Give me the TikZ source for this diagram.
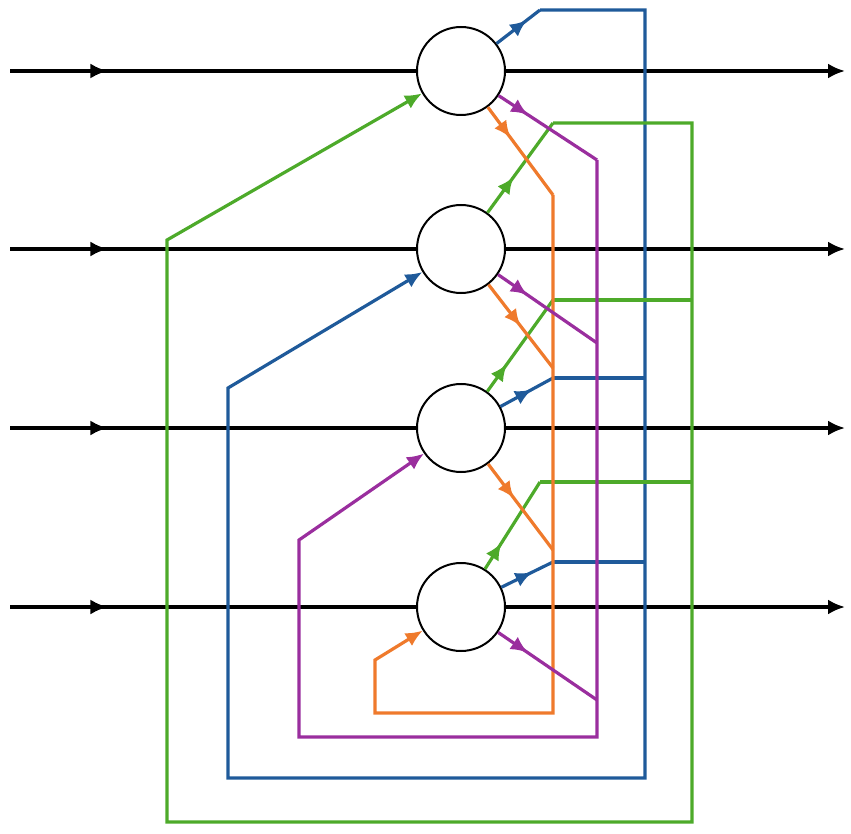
\documentclass[tikz,border=0pt]{standalone}
\usetikzlibrary{arrows.meta,decorations.markings}
\definecolor{cblue}{HTML}{1F5A9A}
\definecolor{cgreen}{HTML}{4DAA2A}
\definecolor{corange}{HTML}{EF7A2C}
\definecolor{cpurple}{HTML}{9A2E9E}
\tikzset{
  neuron/.style={circle,draw=black,line width=2pt,minimum size=88pt,inner sep=0pt,fill=white},
  wire/.style={line width=3.2pt,line join=miter},
  arr/.style={-{Latex[length=17pt,width=15pt]}},
  markat/.style={postaction={decorate},decoration={markings,mark=at position #1 with {\arrow{Latex[length=17pt,width=15pt]}}}},
}
\begin{document}
\begin{tikzpicture}[x=1pt,y=-1pt]
\useasboundingbox (0,0) rectangle (851,834);
\node[neuron] (c1) at (461,71) {};
\node[neuron] (c2) at (461,249) {};
\node[neuron] (c3) at (461,428) {};
\node[neuron] (c4) at (461,607) {};
% black inputs/outputs
\foreach \n/\y in {c1/71,c2/249,c3/428,c4/607}{
  \draw[wire,black,markat=0.24] (10,\y) -- (\n.west);
  \draw[wire,black,arr] (\n.east) -- (845,\y);
}
% blue
\draw[wire,cblue,markat=0.7] (c1) -- (540,10);
\draw[wire,cblue,arr] (540,10) -- (645,10) -- (645,778) -- (228,778) -- (228,388) -- (c2);
\draw[wire,cblue,markat=0.6] (c3) -- (553,378);
\draw[wire,cblue] (553,378) -- (645,378);
\draw[wire,cblue,markat=0.6] (c4) -- (553,562);
\draw[wire,cblue] (553,562) -- (645,562);
% green
\draw[wire,cgreen,markat=0.4] (c2) -- (553,123);
\draw[wire,cgreen,arr] (553,123) -- (692,123) -- (692,822) -- (167,822) -- (167,240) -- (c1);
\draw[wire,cgreen,markat=0.3] (c3) -- (553,300);
\draw[wire,cgreen] (553,300) -- (692,300);
\draw[wire,cgreen,markat=0.3] (c4) -- (540,482);
\draw[wire,cgreen] (540,482) -- (692,482);
% orange
\draw[wire,corange,markat=0.35] (c1) -- (553,195);
\draw[wire,corange,arr] (553,195) -- (553,713) -- (375,713) -- (375,660) -- (c4);
\draw[wire,corange,markat=0.5] (c2) -- (553,368);
\draw[wire,corange,markat=0.4] (c3) -- (553,550);
% purple
\draw[wire,cpurple,markat=0.3] (c1) -- (597,160);
\draw[wire,cpurple,arr] (597,160) -- (597,737) -- (299,737) -- (299,540) -- (c3);
\draw[wire,cpurple,markat=0.3] (c2) -- (597,343);
\draw[wire,cpurple,markat=0.3] (c4) -- (597,700);
\end{tikzpicture}
\end{document}
